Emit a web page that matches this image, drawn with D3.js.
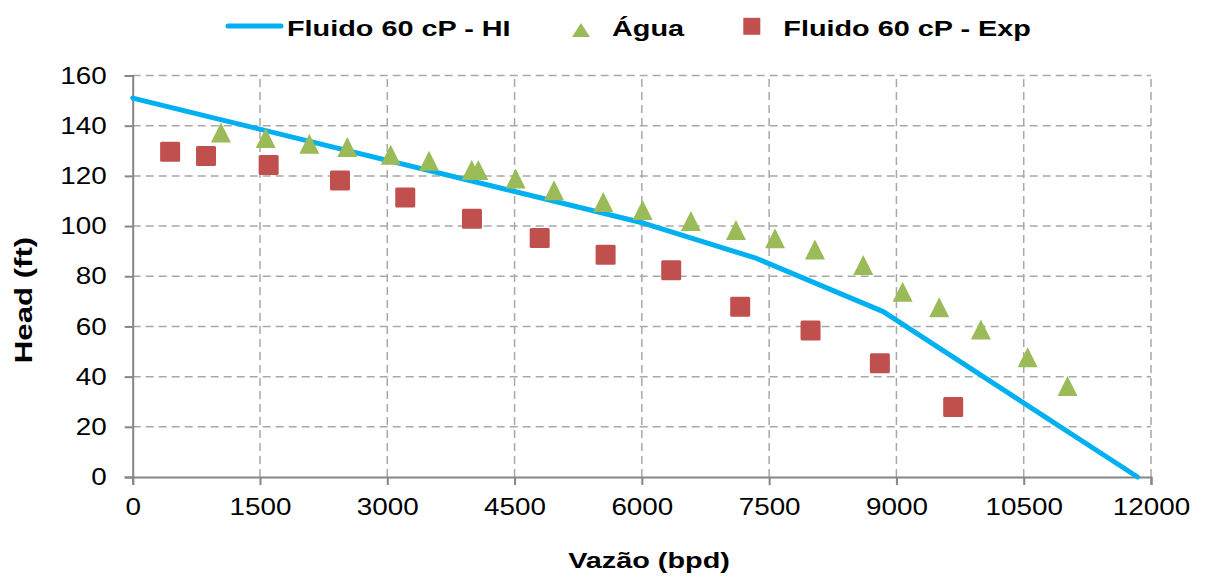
<!DOCTYPE html>
<html><head><meta charset="utf-8">
<script src="https://cdn.jsdelivr.net/npm/d3@7"></script>
<style>
body{margin:0;background:#fff;}
svg{display:block;font-family:"Liberation Sans",Arial,sans-serif;}
</style></head>
<body>
<svg id="c" width="1205" height="583"></svg>
<script>
// ---- data ----
const hiQ    = [0, 6017, 7353, 8845, 11842];
const hiHead = [151, 101.2, 87.1, 65.9, 0];

const waterQ    = [1040, 1567, 2081, 2529, 3040, 3492, 3995, 4073, 4513, 4965, 5545, 6009, 6578, 7109, 7569, 8040, 8609, 9073, 9504, 9995, 10546, 11017];
const waterHead = [137.3, 135.1, 132.8, 131.5, 128.4, 126.0, 122.3, 122.3, 119.0, 114.3, 109.6, 106.4, 102.0, 98.4, 95.1, 90.7, 84.5, 73.8, 67.6, 58.8, 47.7, 36.3];

const expQ    = [441, 864, 1602, 2443, 3212, 3998, 4796, 5573, 6346, 7159, 7988, 8805, 9669];
const expHead = [129.6, 127.9, 124.3, 118.2, 111.4, 102.9, 95.2, 88.6, 82.4, 67.8, 58.4, 45.3, 27.9];

const xTicks = [0, 1500, 3000, 4500, 6000, 7500, 9000, 10500, 12000];
const yTicks = [0, 20, 40, 60, 80, 100, 120, 140, 160];

const seriesNames = ["Fluido 60 cP - HI", "Água", "Fluido 60 cP - Exp"];
const xTitle = "Vazão (bpd)";
const yTitle = "Head (ft)";

// ---- layout ----
const svg = d3.select("#c");
const L = 132.7, R = 1151, T = 75.5, B = 477;
const x = d3.scaleLinear().domain([0, 12000]).range([L, R]);
const y = d3.scaleLinear().domain([0, 160]).range([B, T]);

const cLine = "#00B0F0", cTri = "#9BBB59", cSq = "#C0504D";
const gridC = "#a8a8a8", axisC = "#868686";
const KT = 1.16, KB = 1.31;

// grid
const g = svg.append("g");
g.selectAll("line.h").data(yTicks.filter(d => d > 0)).join("line")
  .attr("x1", L).attr("x2", R).attr("y1", d => y(d)).attr("y2", d => y(d))
  .attr("stroke", gridC).attr("stroke-width", 1.5).attr("stroke-dasharray", "8,5");
g.selectAll("line.v").data(xTicks.filter(d => d > 0)).join("line")
  .attr("y1", B).attr("y2", T).attr("x1", d => x(d)).attr("x2", d => x(d))
  .attr("stroke", gridC).attr("stroke-width", 1.5).attr("stroke-dasharray", "8,5");

// axes
const xAxis = svg.append("g").attr("transform", `translate(0,${B})`)
  .call(d3.axisBottom(x).tickValues(xTicks).tickFormat(d3.format("d")).tickSizeOuter(0).tickSize(8).tickPadding(18));
const yAxis = svg.append("g").attr("transform", `translate(${L},0)`)
  .call(d3.axisLeft(y).tickValues(yTicks).tickFormat(d3.format("d")).tickSizeOuter(0).tickSize(8).tickPadding(18));
[xAxis, yAxis].forEach(a => {
  a.select(".domain").attr("stroke", axisC).attr("stroke-width", 2);
  a.selectAll(".tick line").attr("stroke", axisC).attr("stroke-width", 2);
  a.selectAll(".tick text").attr("fill", "#000").style("font-size", "24px")
    .style("font-family", "'Liberation Sans', Arial, sans-serif")
    .attr("transform", `scale(${KT},1)`);
});
xAxis.selectAll(".tick text").attr("dy", "0.5em");
yAxis.selectAll(".tick text").attr("x", -26 / KT);

// HI line
const pts = hiQ.map((q, i) => [q, hiHead[i]]);
svg.append("path").datum(pts)
  .attr("d", d3.line().x(d => x(d[0])).y(d => y(d[1])))
  .attr("fill", "none").attr("stroke", cLine).attr("stroke-width", 5)
  .attr("stroke-linecap", "round").attr("stroke-linejoin", "round");

// water triangles
const tri = (cx, cy, w, h) => `M${cx},${cy - h / 2}L${cx + w / 2},${cy + h / 2}L${cx - w / 2},${cy + h / 2}Z`;
svg.append("g").selectAll("path").data(waterQ.map((q, i) => [q, waterHead[i]])).join("path")
  .attr("d", d => tri(x(d[0]), y(d[1]), 20, 20)).attr("fill", cTri);

// exp squares
svg.append("g").selectAll("rect").data(expQ.map((q, i) => [q, expHead[i]])).join("rect")
  .attr("x", d => x(d[0]) - 10).attr("y", d => y(d[1]) - 10)
  .attr("width", 20).attr("height", 20).attr("rx", 1.5).attr("fill", cSq);

// bold stretched text
function btext(px, py, str, anchor, size, k, rot) {
  return svg.append("text")
    .attr("transform", `translate(${px},${py})${rot ? " rotate(" + rot + ")" : ""} scale(${k},1)`)
    .attr("text-anchor", anchor || "start")
    .style("font-weight", "bold").style("font-size", size + "px").attr("fill", "#000")
    .text(str);
}

// legend
svg.append("line").attr("x1", 228).attr("x2", 281).attr("y1", 26).attr("y2", 26)
  .attr("stroke", cLine).attr("stroke-width", 5).attr("stroke-linecap", "round");
btext(287, 35.5, seriesNames[0], "start", 22, KB);
svg.append("path").attr("d", tri(581, 30, 18, 14)).attr("fill", cTri);
btext(612, 35.5, seriesNames[1], "start", 22, KB);
svg.append("rect").attr("x", 743.3).attr("y", 17.8).attr("width", 17).attr("height", 17).attr("fill", cSq);
btext(783.3, 35.5, seriesNames[2], "start", 22, KB);

// axis titles
btext(649, 568, xTitle, "middle", 22, KB);
btext(31.5, 300, yTitle, "middle", 24, 1.3, -90);
</script>
</body></html>
